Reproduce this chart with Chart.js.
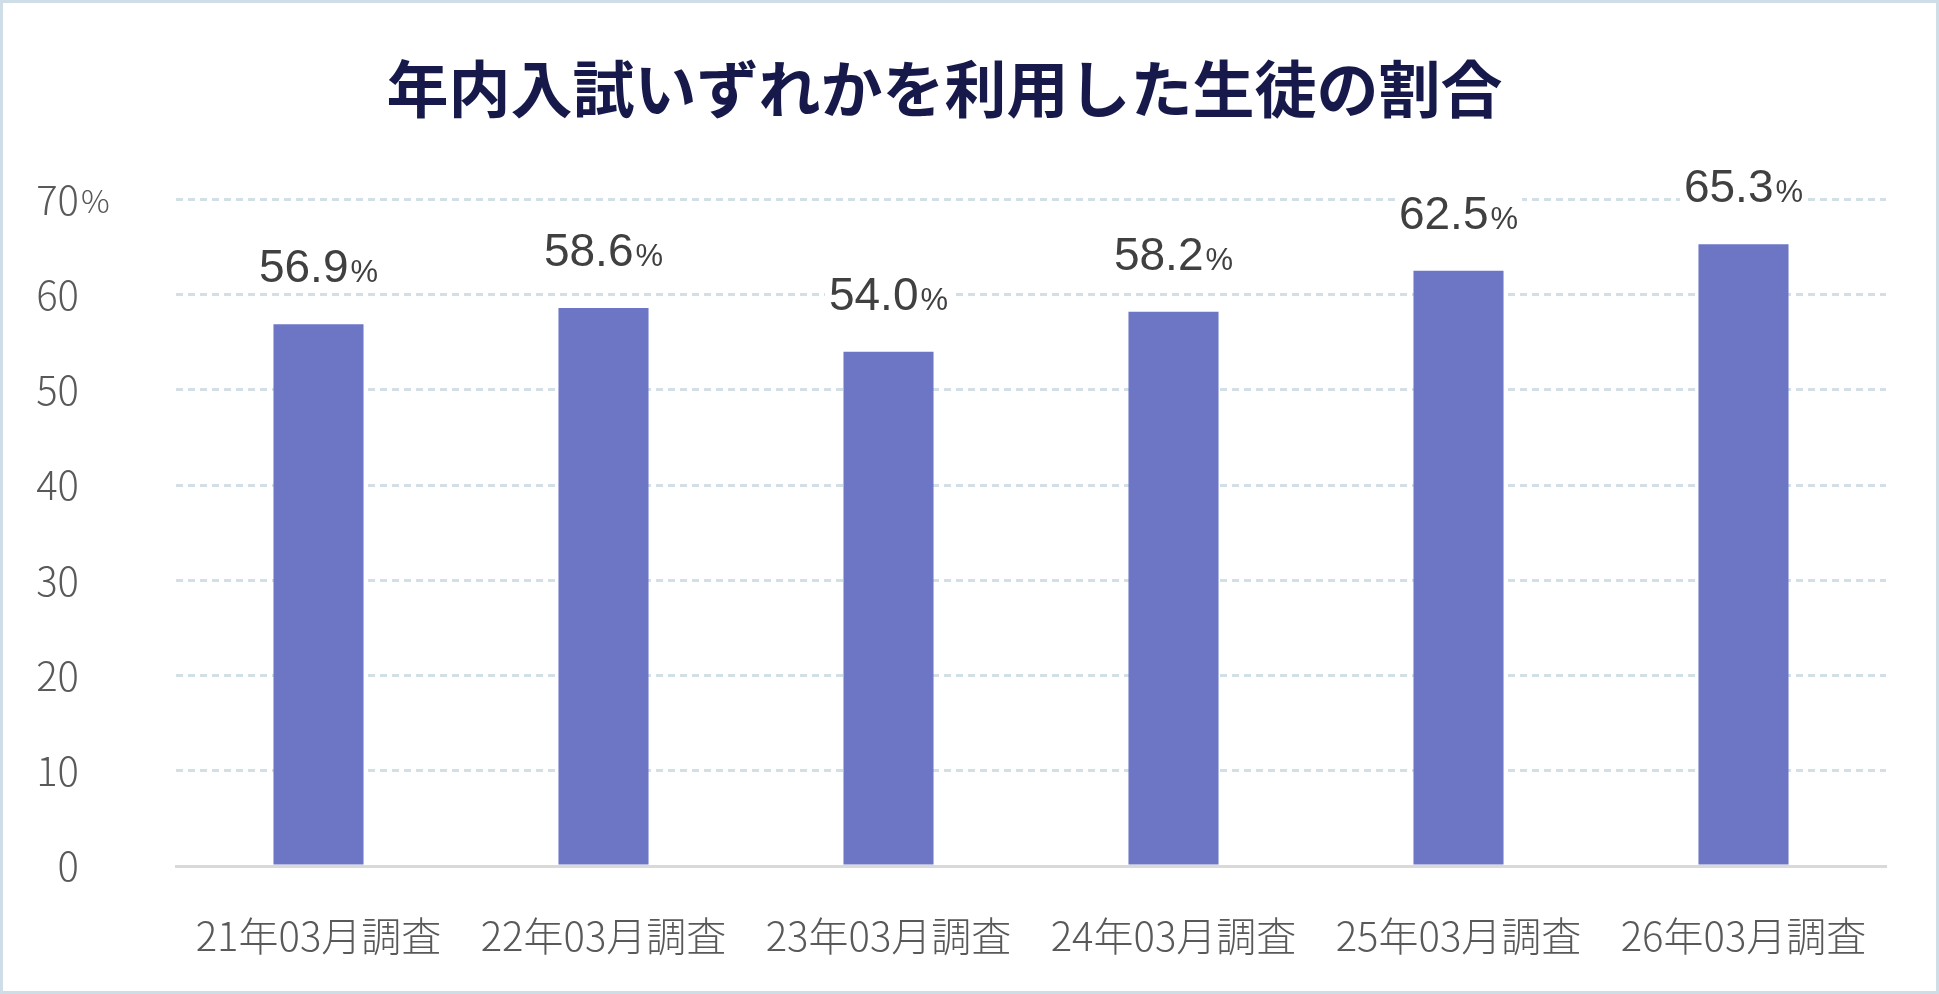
<!DOCTYPE html>
<html lang="ja">
<head>
<meta charset="utf-8">
<title>年内入試いずれかを利用した生徒の割合</title>
<script src="https://cdn.jsdelivr.net/npm/chart.js@4.4.1/dist/chart.umd.min.js"></script>
<style>
  html, body { margin: 0; padding: 0; background: #fff; }
  .frame {
    width: 1939px;
    height: 994px;
    box-sizing: border-box;
    border: 3px solid #cfdde6;
    background: #fff;
  }
  canvas { display: block; }
</style>
</head>
<body>
<div class="frame">
  <canvas id="myChart" width="1933" height="988"></canvas>
</div>
<script>
const labels = ["21年03月調査", "22年03月調査", "23年03月調査", "24年03月調査", "25年03月調査", "26年03月調査"];
const rates = [56.9, 58.6, 54.0, 58.2, 62.5, 65.3];
const yTicks = [0, 10, 20, 30, 40, 50, 60, 70];

const tickFont = "'Noto Sans CJK JP', 'Noto Sans', sans-serif";
const numFont = "'Liberation Sans', Arial, sans-serif";

// Value labels above bars with a small "%" and a white backing box
const valueLabels = {
  id: "valueLabels",
  afterDatasetsDraw(chart) {
    const { ctx } = chart;
    const meta = chart.getDatasetMeta(0);
    ctx.save();
    meta.data.forEach((bar, i) => {
      const num = rates[i].toFixed(1);
      ctx.font = "46px " + numFont;
      const wNum = ctx.measureText(num).width;
      ctx.font = "31px " + numFont;
      const wPct = ctx.measureText("%").width;
      const total = wNum + 2 + wPct;
      const left = bar.x - total / 2;
      const base = bar.y - 42;

      ctx.fillStyle = "#fff";
      ctx.fillRect(left - 4, base - 38, total + 8, 44);

      ctx.fillStyle = "#404040";
      ctx.textBaseline = "alphabetic";
      ctx.textAlign = "left";
      ctx.font = "46px " + numFont;
      ctx.fillText(num, left, base);
      ctx.font = "31px " + numFont;
      ctx.fillText("%", left + wNum + 2, base);
    });
    ctx.restore();
  }
};

// "%" after the top y tick
const topTickPercent = {
  id: "topTickPercent",
  afterDraw(chart) {
    const { ctx, scales } = chart;
    const y = scales.y;
    const top = yTicks[yTicks.length - 1];
    const py = y.getPixelForValue(top);
    const right = y.right - y.options.ticks.padding;
    ctx.save();
    ctx.fillStyle = "#595959";
    ctx.font = "300 32px " + tickFont;
    ctx.textAlign = "left";
    ctx.textBaseline = "alphabetic";
    ctx.fillText("%", right + 2, py + 14);
    ctx.restore();
  }
};

const ctx = document.getElementById("myChart").getContext("2d");
const chart = new Chart(ctx, {
  type: "bar",
  data: {
    labels: labels,
    datasets: [{
      data: rates,
      backgroundColor: "#6c76c5",
      borderWidth: 0,
      categoryPercentage: 1,
      barPercentage: 0.316
    }]
  },
  options: {
    responsive: false,
    animation: false,
    devicePixelRatio: 1,
    layout: { padding: { left: 0, right: 50, top: 0, bottom: 0 } },
    plugins: {
      legend: { display: false },
      tooltip: { enabled: false },
      title: {
        display: true,
        text: "年内入試いずれかを利用した生徒の割合",
        color: "#16194a",
        font: { family: tickFont, size: 62, weight: "bold", lineHeight: 1.2 },
        padding: { top: 49, bottom: 73 }
      }
    },
    scales: {
      x: {
        grid: { display: false },
        border: { display: true, color: "#d9d9d9", width: 3 },
        ticks: {
          color: "#595959",
          font: { family: tickFont, size: 40, weight: 300, lineHeight: 1.2 },
          padding: 38,
          maxRotation: 0,
          autoSkip: false
        },
        afterFit(s) { s.height = 125; }
      },
      y: {
        min: 0,
        max: 70,
        afterBuildTicks(s) { s.ticks = yTicks.map(v => ({ value: v })); },
        border: { display: false, dash: [7, 5] },
        grid: {
          drawTicks: false,
          color: c => c.tick && c.tick.value === 0 ? "rgba(0,0,0,0)" : "#d3dfe7",
          lineWidth: 3
        },
        ticks: {
          color: "#595959",
          font: { family: tickFont, size: 40, weight: 300 },
          padding: 97,
          callback: v => String(v)
        },
        afterFit(s) { s.width = 173; }
      }
    }
  },
  plugins: [valueLabels, topTickPercent]
});
</script>
</body>
</html>
